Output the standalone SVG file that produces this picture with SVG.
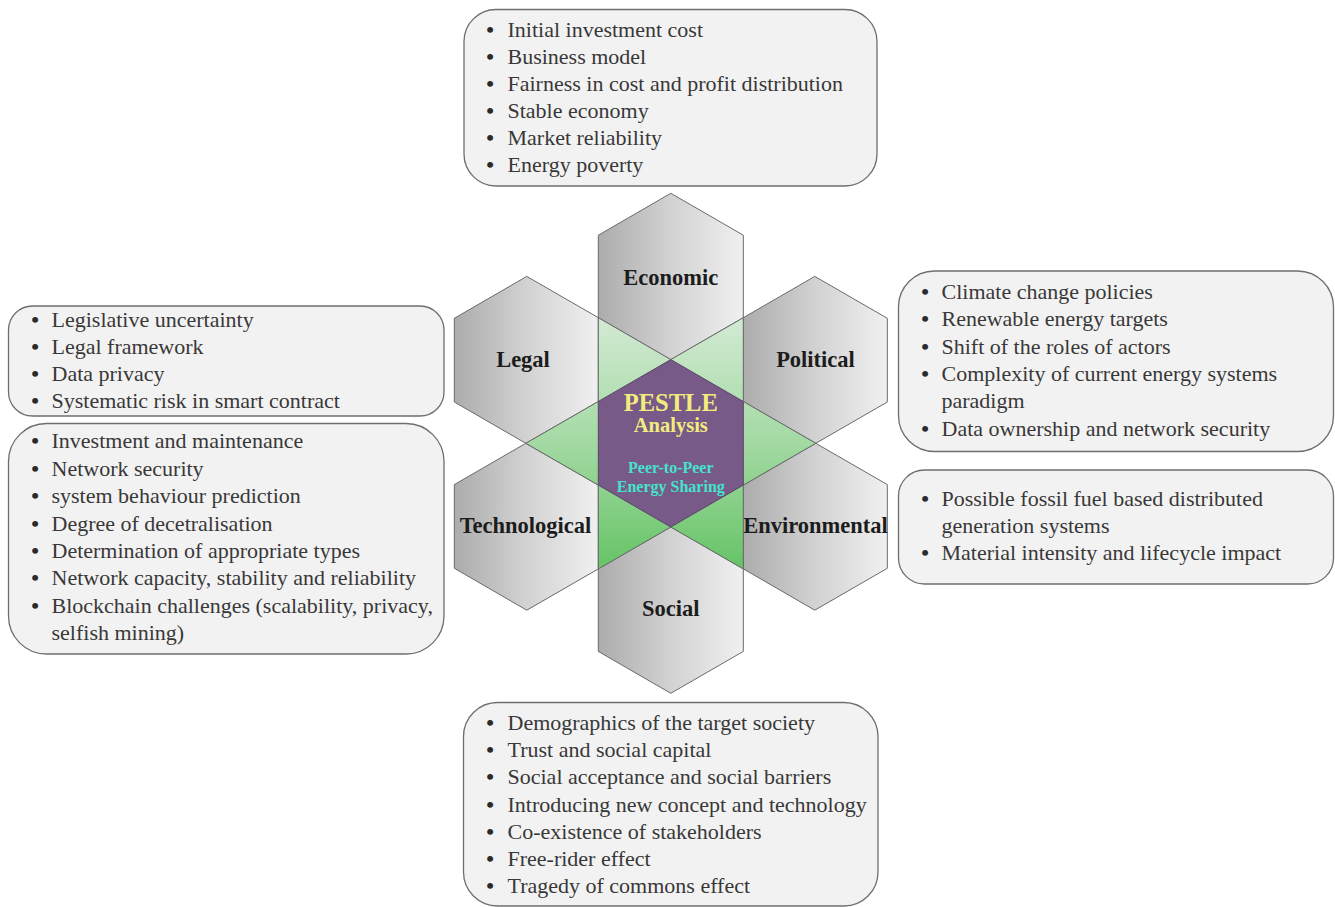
<svg xmlns="http://www.w3.org/2000/svg" width="1335" height="907" viewBox="0 0 1335 907">
  <defs>
    <linearGradient id="grayFill" x1="0" y1="0" x2="1" y2="0">
      <stop offset="0" stop-color="#acacac"/>
      <stop offset="0.5" stop-color="#d2d2d2"/>
      <stop offset="1" stop-color="#f0f0f0"/>
    </linearGradient>
    <linearGradient id="greenFill" gradientUnits="userSpaceOnUse" x1="0" y1="317" x2="0" y2="569">
      <stop offset="0" stop-color="#d2ead3"/>
      <stop offset="0.5" stop-color="#a3d9a3"/>
      <stop offset="1" stop-color="#66c466"/>
    </linearGradient>
    <style>
      .box { fill: #f3f2f2; stroke: #6e6e6e; stroke-width: 1.3; }
      .piece { fill: url(#grayFill); stroke: #6a6a6a; stroke-width: 1; }
      .item { font-family: "Liberation Serif", "Times New Roman", serif; font-size: 22px; fill: #383838; }
      .dot { font-family: "Liberation Serif", "Times New Roman", serif; font-size: 22px; font-weight: bold; fill: #2a2a2a; text-anchor: middle; }
      .label { font-family: "Liberation Serif", "Times New Roman", serif; font-size: 22.5px; font-weight: bold; fill: #1c1c1c; text-anchor: middle; }
      .core { font-family: "Liberation Serif", "Times New Roman", serif; font-weight: bold; text-anchor: middle; }
    </style>
  </defs>

  <!-- hexagonal PESTLE wheel -->
  <g id="wheel">
    <polygon id="hex-economic" class="piece" points="670.8,193.3 743.3,235.2 743.3,317.7 670.8,359.6 598.3,317.7 598.3,235.2"/>
    <polygon id="hex-social" class="piece" points="670.8,693.3 743.3,651.4 743.3,568.9 670.8,527 598.3,568.9 598.3,651.4"/>
    <polygon id="hex-legal" class="piece" points="454.3,318.3 526.8,276.4 598.3,317.7 598.3,401.5 525.8,443.3 454.3,402"/>
    <polygon id="hex-political" class="piece" points="887.3,318.3 814.8,276.4 743.3,317.7 743.3,401.5 815.8,443.3 887.3,402"/>
    <polygon id="hex-technological" class="piece" points="454.3,568.3 526.8,610.2 598.3,568.9 598.3,485.1 525.8,443.3 454.3,484.6"/>
    <polygon id="hex-environmental" class="piece" points="887.3,568.3 814.8,610.2 743.3,568.9 743.3,485.1 815.8,443.3 887.3,484.6"/>
    <polygon id="overlap" fill="url(#greenFill)" stroke="#6a6a6a" stroke-width="1" points="598.3,317.7 670.8,359.6 743.3,317.7 743.3,401.5 815.8,443.3 743.3,485.1 743.3,568.9 670.8,527 598.3,568.9 598.3,485.1 525.8,443.3 598.3,401.5"/>
    <polygon id="core" fill="#785a88" stroke="#5a4366" stroke-width="1" points="670.8,359.6 743.3,401.5 743.3,485.1 670.8,527 598.3,485.1 598.3,401.5"/>
  </g>

  <g id="wheel-labels">
    <text class="label" x="670.8" y="285">Economic</text>
    <text class="label" x="523" y="367">Legal</text>
    <text class="label" x="815.5" y="367">Political</text>
    <text class="label" x="525.5" y="533">Technological</text>
    <text class="label" x="815.5" y="533">Environmental</text>
    <text class="label" x="670.8" y="616">Social</text>
  </g>

  <g id="core-text">
    <text class="core" x="670.8" y="410.5" font-size="24.5" fill="#f2ec7c">PESTLE</text>
    <text class="core" x="670.8" y="432" font-size="20.5" fill="#f2ec7c">Analysis</text>
    <text class="core" x="670.8" y="473" font-size="16" fill="#45e2cc">Peer-to-Peer</text>
    <text class="core" x="670.8" y="491.5" font-size="16" fill="#45e2cc">Energy Sharing</text>
  </g>

  <!-- Economic factors -->
  <g id="box-economic">
    <rect class="box" x="464" y="9.5" width="413" height="176.5" rx="32"/>
    <text class="dot" x="490" y="36.7">•</text><text class="item" x="507.5" y="36.7">Initial investment cost</text>
    <text class="dot" x="490" y="63.7">•</text><text class="item" x="507.5" y="63.7">Business model</text>
    <text class="dot" x="490" y="90.7">•</text><text class="item" x="507.5" y="90.7">Fairness in cost and profit distribution</text>
    <text class="dot" x="490" y="117.7">•</text><text class="item" x="507.5" y="117.7">Stable economy</text>
    <text class="dot" x="490" y="144.7">•</text><text class="item" x="507.5" y="144.7">Market reliability</text>
    <text class="dot" x="490" y="171.7">•</text><text class="item" x="507.5" y="171.7">Energy poverty</text>
  </g>

  <!-- Legal factors -->
  <g id="box-legal">
    <rect class="box" x="8.5" y="306" width="435.5" height="110" rx="24"/>
    <text class="dot" x="35" y="326.7">•</text><text class="item" x="51.5" y="326.7">Legislative uncertainty</text>
    <text class="dot" x="35" y="353.9">•</text><text class="item" x="51.5" y="353.9">Legal framework</text>
    <text class="dot" x="35" y="381.1">•</text><text class="item" x="51.5" y="381.1">Data privacy</text>
    <text class="dot" x="35" y="408.3">•</text><text class="item" x="51.5" y="408.3">Systematic risk in smart contract</text>
  </g>

  <!-- Technological factors -->
  <g id="box-technological">
    <rect class="box" x="8.5" y="423.5" width="435.5" height="230.5" rx="38"/>
    <text class="dot" x="35" y="448.3">•</text><text class="item" x="51.5" y="448.3">Investment and maintenance</text>
    <text class="dot" x="35" y="475.7">•</text><text class="item" x="51.5" y="475.7">Network security</text>
    <text class="dot" x="35" y="503.1">•</text><text class="item" x="51.5" y="503.1">system behaviour prediction</text>
    <text class="dot" x="35" y="530.5">•</text><text class="item" x="51.5" y="530.5">Degree of decetralisation</text>
    <text class="dot" x="35" y="557.8">•</text><text class="item" x="51.5" y="557.8">Determination of appropriate types</text>
    <text class="dot" x="35" y="585.2">•</text><text class="item" x="51.5" y="585.2">Network capacity, stability and reliability</text>
    <text class="dot" x="35" y="612.6">•</text><text class="item" x="51.5" y="612.6">Blockchain challenges (scalability, privacy,</text>
    <text class="item" x="51.5" y="640">selfish mining)</text>
  </g>

  <!-- Political factors -->
  <g id="box-political">
    <rect class="box" x="898.5" y="271" width="435" height="180.5" rx="36"/>
    <text class="dot" x="925" y="299">•</text><text class="item" x="941.5" y="299">Climate change policies</text>
    <text class="dot" x="925" y="326.3">•</text><text class="item" x="941.5" y="326.3">Renewable energy targets</text>
    <text class="dot" x="925" y="353.7">•</text><text class="item" x="941.5" y="353.7">Shift of the roles of actors</text>
    <text class="dot" x="925" y="381">•</text><text class="item" x="941.5" y="381">Complexity of current energy systems</text>
    <text class="item" x="941.5" y="408.3">paradigm</text>
    <text class="dot" x="925" y="435.7">•</text><text class="item" x="941.5" y="435.7">Data ownership and network security</text>
  </g>

  <!-- Environmental factors -->
  <g id="box-environmental">
    <rect class="box" x="898.5" y="470" width="435" height="114" rx="26"/>
    <text class="dot" x="925" y="505.7">•</text><text class="item" x="941.5" y="505.7">Possible fossil fuel based distributed</text>
    <text class="item" x="941.5" y="532.9">generation systems</text>
    <text class="dot" x="925" y="560">•</text><text class="item" x="941.5" y="560">Material intensity and lifecycle impact</text>
  </g>

  <!-- Social factors -->
  <g id="box-social">
    <rect class="box" x="463.5" y="702.5" width="414.5" height="203.5" rx="34"/>
    <text class="dot" x="490" y="730">•</text><text class="item" x="507.5" y="730">Demographics of the target society</text>
    <text class="dot" x="490" y="757.2">•</text><text class="item" x="507.5" y="757.2">Trust and social capital</text>
    <text class="dot" x="490" y="784.4">•</text><text class="item" x="507.5" y="784.4">Social acceptance and social barriers</text>
    <text class="dot" x="490" y="811.7">•</text><text class="item" x="507.5" y="811.7">Introducing new concept and technology</text>
    <text class="dot" x="490" y="838.9">•</text><text class="item" x="507.5" y="838.9">Co-existence of stakeholders</text>
    <text class="dot" x="490" y="866.1">•</text><text class="item" x="507.5" y="866.1">Free-rider effect</text>
    <text class="dot" x="490" y="893.3">•</text><text class="item" x="507.5" y="893.3">Tragedy of commons effect</text>
  </g>
</svg>
